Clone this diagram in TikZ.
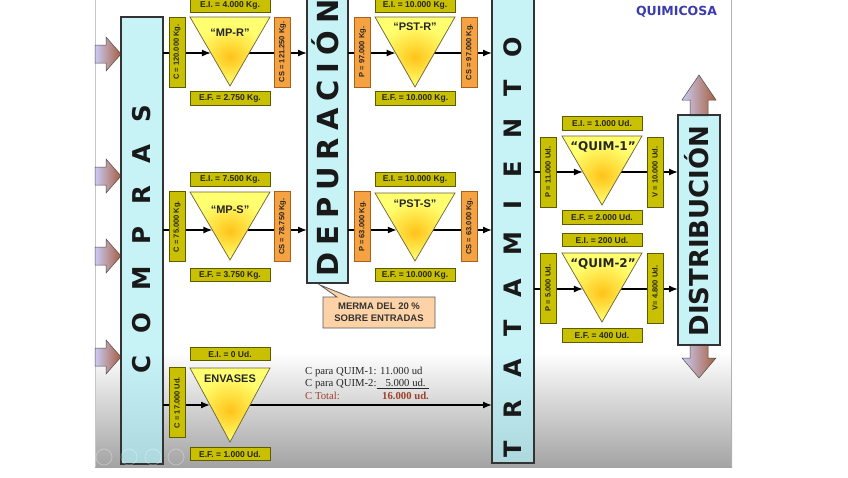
\documentclass[tikz,border=0pt]{standalone}
\usepackage{fontspec}
\setmainfont{Liberation Sans}
\newfontfamily\djv{DejaVu Sans}
\newfontfamily\djvls{DejaVu Sans}[LetterSpace=24]
\newfontfamily\tms{Liberation Serif}
\usetikzlibrary{arrows.meta}
\definecolor{boxc}{HTML}{B0EEF5}
\definecolor{oliv}{HTML}{C8C000}
\definecolor{olivb}{HTML}{5E5A00}
\definecolor{orng}{HTML}{F5A243}
\definecolor{orngb}{HTML}{A8601C}
\definecolor{trio}{HTML}{FFC21A}
\definecolor{trmid}{HTML}{FFE040}
\definecolor{trout}{HTML}{FFFF70}
\definecolor{trib}{HTML}{6A6238}
\definecolor{arrl}{HTML}{CBCBF6}
\definecolor{arrr}{HTML}{A65E3C}
\definecolor{peach}{HTML}{FDD2A6}
\definecolor{qblue}{HTML}{3B3BAE}
\definecolor{tred}{HTML}{A0402A}
\pgfdeclareradialshading{trishade}{\pgfpoint{0bp}{-4bp}}{color(0bp)=(trio); color(10bp)=(trmid); color(22bp)=(trout); color(50bp)=(trout)}
\tikzset{
  hlab/.style={draw=olivb, fill=oliv, line width=0.8pt, minimum width=80pt, minimum height=13.5pt, inner sep=0pt, outer sep=0pt, font=\fontsize{8.5}{9}\selectfont\bfseries, text=black!85},
  vlab/.style={rotate=90, minimum width=70pt, minimum height=16pt, inner sep=0pt, outer sep=0pt, line width=0.8pt, font=\fontsize{7.5}{8}\selectfont\bfseries, text=black!85},
  volab/.style={vlab, draw=olivb, fill=oliv},
  vorlab/.style={vlab, draw=orngb, fill=orng},
  bigbox/.style={draw=black!80, line width=1.5pt, fill=boxc, fill opacity=0.7, inner sep=0pt, outer sep=0pt},
  bigtxt/.style={rotate=90, inner sep=0pt, text=black!90},
  flow/.style={line width=1.4pt, -{Latex[length=9pt,width=7pt]}},
  tri/.style={draw=trib, line width=0.7pt, shading=trishade},
  trilab/.style={font=\fontsize{11}{11}\selectfont\bfseries, inner sep=0pt, text=black!85},
  qlab/.style={font=\djv\bfseries\fontsize{12}{12}\selectfont, inner sep=0pt, text=black!85},
  blockarr/.style={draw=gray!60!black, line width=0.5pt, left color=arrl, right color=arrr},
  rarrow/.pic={\shadedraw[blockarr] (0,-9) -- (11,-9) -- (11,-17) -- (26,0) -- (11,17) -- (11,9) -- (0,9) -- cycle;}
}
\newcommand\mytri[3]{\shadedraw[tri] (#1-40,#2) -- (#1+40,#2) -- (#1,#3) -- cycle;}
\begin{document}
\begin{tikzpicture}[x=1pt,y=-1pt]
\useasboundingbox (0,0) rectangle (848,477);
\fill[white] (0,0) rectangle (848,477);
% slide background
\shade[top color=white, bottom color=black!36] (95,352) rectangle (732,467);
\draw[gray!45, line width=0.6pt] (95,0) -- (95,467);
\draw[gray!60, line width=1.5pt] (731.5,0) -- (731.5,467);

% left block arrows
\pic at (95,54) {rarrow};
\pic at (95,176) {rarrow};
\pic at (95,256) {rarrow};
\pic at (95,357) {rarrow};

% distribution block arrows
\shadedraw[blockarr] (690,116) -- (690,100) -- (682,100) -- (699,75) -- (716,100) -- (708,100) -- (708,116) -- cycle;
\shadedraw[blockarr] (690,344) -- (690,358) -- (682,358) -- (699,378) -- (716,358) -- (708,358) -- (708,344) -- cycle;

% big boxes
\node[bigbox, minimum width=42pt, minimum height=447pt] (compras) at (142,240.5) {};
\node[bigbox, minimum width=41pt, minimum height=290pt] (depur) at (327.5,138) {};
\node[bigbox, minimum width=42pt, minimum height=470pt] (trat) at (513,228) {};
\node[bigbox, minimum width=42pt, minimum height=230pt] (distr) at (699,230) {};

% edge points on triangles
\coordinate (mprL) at (210.9,53);  \coordinate (mprR) at (249.1,53);
\coordinate (pstrL) at (395.6,53); \coordinate (pstrR) at (434.4,53);
\coordinate (mpsL) at (212.4,230); \coordinate (mpsR) at (247.6,230);
\coordinate (pstsL) at (396.8,230);\coordinate (pstsR) at (433.2,230);
\coordinate (q1L) at (582.9,172);  \coordinate (q1R) at (621.1,172);
\coordinate (q2L) at (582.9,289);  \coordinate (q2R) at (621.1,289);
\coordinate (envL) at (210,405);   \coordinate (envR) at (250,405);

% connectors
\draw[flow] (compras.east |- mprL) -- (mprL);
\draw[flow] (mprR) -- (depur.west |- mprR);
\draw[flow] (depur.east |- pstrL) -- (pstrL);
\draw[flow] (pstrR) -- (trat.west |- pstrR);
\draw[flow] (compras.east |- mpsL) -- (mpsL);
\draw[flow] (mpsR) -- (depur.west |- mpsR);
\draw[flow] (depur.east |- pstsL) -- (pstsL);
\draw[flow] (pstsR) -- (trat.west |- pstsR);
\draw[flow] (trat.east |- q1L) -- (q1L);
\draw[flow] (q1R) -- (distr.west |- q1R);
\draw[flow] (trat.east |- q2L) -- (q2L);
\draw[flow] (q2R) -- (distr.west |- q2R);
\draw[flow] (compras.east |- envL) -- (envL);
\draw[flow] (envR) -- (trat.west |- envR);

% triangles
\mytri{230}{17}{86}
\mytri{415}{17}{87}
\mytri{230}{192}{260}
\mytri{415}{193}{261}
\mytri{602}{136}{205}
\mytri{602}{253}{322}
\mytri{230}{368}{442}
\node[trilab] (tmpr) at (230,33) {“MP-R”};
\node[trilab] (tpstr) at (415,27) {“PST-R”};
\node[trilab] (tmps) at (230,210) {“MP-S”};
\node[trilab] (tpsts) at (415,204) {“PST-S”};
\node[qlab] (tq1) at (603,147) {“QUIM-1”};
\node[qlab] (tq2) at (603,264) {“QUIM-2”};
\node[trilab] (tenv) at (230,379) {ENVASES};

% horizontal labels
\node[hlab] (ei1) at (230,5.5) {E.I. = 4.000 Kg.};
\node[hlab] (ef1) at (230,98.5) {E.F. = 2.750 Kg.};
\node[hlab] (ei2) at (415,5.5) {E.I. = 10.000 Kg.};
\node[hlab] (ef2) at (415,98.5) {E.F. = 10.000 Kg.};
\node[hlab] (ei3) at (230,179.5) {E.I. = 7.500 Kg.};
\node[hlab] (ef3) at (230,275) {E.F. = 3.750 Kg.};
\node[hlab] (ei4) at (415,179.5) {E.I. = 10.000 Kg.};
\node[hlab] (ef4) at (415,275) {E.F. = 10.000 Kg.};
\node[hlab] (ei5) at (602,123.5) {E.I. = 1.000 Ud.};
\node[hlab] (ef5) at (602,217.5) {E.F. = 2.000 Ud.};
\node[hlab] (ei6) at (602,240) {E.I. = 200 Ud.};
\node[hlab] (ef6) at (602,335.5) {E.F. = 400 Ud.};
\node[hlab] (ei7) at (230,354) {E.I. = 0 Ud.};
\node[hlab] (ef7) at (230,454) {E.F. = 1.000 Ud.};

% vertical labels
\node[volab] (c1) at (177,52) {C = 120.000 Kg.};
\node[vorlab] (cs1) at (282.5,52) {CS = 121.250 Kg.};
\node[vorlab] (p2) at (362.5,52) {P = 97.000 Kg.};
\node[vorlab] (cs2) at (469.5,52) {CS = 97.000 Kg.};
\node[volab] (c3) at (177,226.5) {C = 75.000 Kg.};
\node[vorlab] (cs3) at (282.5,226.5) {CS = 78.750 Kg.};
\node[vorlab] (p4) at (362.5,226.5) {P = 63.000 Kg.};
\node[vorlab] (cs4) at (469.5,226.5) {CS = 63.000 Kg.};
\node[volab] (p5) at (548,172) {P = 11.000 Ud.};
\node[volab] (v5) at (655,172) {V = 10.000 Ud.};
\node[volab] (p6) at (548,288) {P = 5.000 Ud.};
\node[volab] (v6) at (655,288) {V= 4.800 Ud.};
\node[volab] (c7) at (177,402.5) {C = 17.000 Ud.};

% big texts
\node[bigtxt, font=\djv\bfseries\fontsize{24.5}{24.5}\selectfont, text height=17.8pt, text depth=0pt] (tcompras) at (142,239) {\spaceskip=22pt C O M P R A S};
\node[bigtxt, font=\djvls\bfseries\fontsize{29}{29}\selectfont, text height=21pt, text depth=0pt] (tdepur) at (328,138) {DEPURACIÓN};
\node[bigtxt, font=\djv\bfseries\fontsize{24}{24}\selectfont, text height=17.5pt, text depth=0pt] (ttrat) at (513,247) {\spaceskip=22.6pt T R A T A M I E N T O};
\node[bigtxt, font=\djv\bfseries\fontsize{26}{26}\selectfont, text height=19pt, text depth=0pt] (tdistr) at (699,231) {DISTRIBUCIÓN};

% callout
\draw[fill=peach, draw=gray!70!black, line width=0.8pt] (323,297) -- (337,297) -- (320,285) -- (350,297) -- (435,297) -- (435,328) -- (323,328) -- cycle;
\node[font=\fontsize{9.5}{12}\selectfont\bfseries, align=center, text=black!80, inner sep=0pt] (merma) at (379,312.5) {MERMA DEL 20 \%\\SOBRE ENTRADAS};

% title
\node[font=\djv\bfseries\fontsize{12.5}{12.5}\selectfont, text=qblue, inner sep=0pt] (title) at (676.5,12) {QUIMICOSA};

% consumption note
\node[anchor=base west, font=\tms\fontsize{10.7}{11}\selectfont, inner sep=0pt, text=black!85] (n1) at (305,374) {C para QUIM-1: 11.000 ud};
\node[anchor=base west, font=\tms\fontsize{10.7}{11}\selectfont, inner sep=0pt, text=black!85] (n2) at (305,386.5) {C para QUIM-2:\underline{\hspace{9pt}5.000 ud.\hspace{3pt}}};
\node[anchor=base west, font=\tms\fontsize{10.7}{11}\selectfont, inner sep=0pt, text=tred] (n3) at (305,399) {\makebox[77pt][l]{C Total:}\textbf{16.000 ud.}};

% faint navigation icons
\foreach \xx/\nm in {104/na,129/nb,153/nc,176/nd}
  \node[circle, draw=white, line width=0.8pt, opacity=0.3, minimum size=16pt, inner sep=0pt] (\nm) at (\xx,457) {};
\end{tikzpicture}
\end{document}
